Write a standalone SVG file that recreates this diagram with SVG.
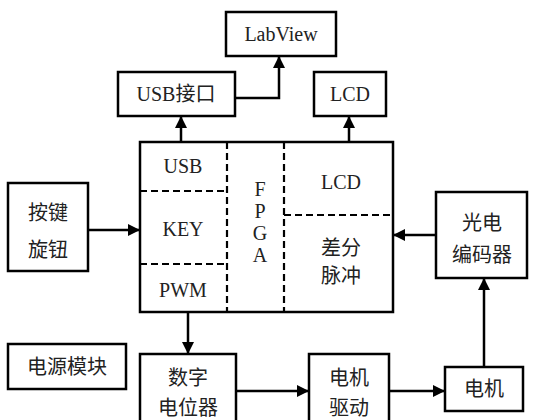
<svg xmlns="http://www.w3.org/2000/svg" width="533" height="420" viewBox="0 0 533 420">
<defs>
<marker id="ah" markerWidth="12" markerHeight="12" refX="11" refY="6" orient="auto" markerUnits="userSpaceOnUse"><path d="M0,0 L12,6 L0,12 Z" fill="#000"/></marker>
<style>
.box{fill:#fff;stroke:#000;stroke-width:2.5}
.dash{fill:none;stroke:#000;stroke-width:2.2;stroke-dasharray:7,4}
.ln{fill:none;stroke:#000;stroke-width:2.5}
text{fill:#222;text-anchor:middle;dominant-baseline:central;font-size:20px}
.t{font-family:"Liberation Serif","DejaVu Serif",serif}
.c{font-family:"Liberation Serif","Noto Sans CJK SC",serif}
</style>
</defs>
<rect width="533" height="420" fill="#fff"/>
<g id="connectors">
<path class="ln" d="M235,98 H279 V57" marker-end="url(#ah)"/>
<path class="ln" d="M181,142 V117" marker-end="url(#ah)"/>
<path class="ln" d="M349,142 V117" marker-end="url(#ah)"/>
<path class="ln" d="M88,230 H139" marker-end="url(#ah)"/>
<path class="ln" d="M436,235 H394" marker-end="url(#ah)"/>
<path class="ln" d="M188,312 V353" marker-end="url(#ah)"/>
<path class="ln" d="M236,391 H308" marker-end="url(#ah)"/>
<path class="ln" d="M389,391 H444" marker-end="url(#ah)"/>
<path class="ln" d="M484,367 V279" marker-end="url(#ah)"/>
</g>
<g id="labview"><rect class="box" x="226" y="12" width="110" height="44"/><text class="t" x="281" y="34">LabView</text></g>
<g id="usbif"><rect class="box" x="118" y="72" width="117" height="44"/><text class="c" x="176" y="94">USB接口</text></g>
<g id="lcd"><rect class="box" x="314" y="72" width="72" height="44"/><text class="t" x="350" y="94">LCD</text></g>
<g id="fpga">
<rect class="box" x="140" y="142" width="253" height="170"/>
<path class="dash" d="M227,142 V312 M284,142 V312 M140,191 H227 M140,264 H227 M284,215 H393"/>
<text class="t" x="183" y="166">USB</text>
<text class="t" x="183" y="229">KEY</text>
<text class="t" x="183" y="290">PWM</text>
<text class="t" x="260" y="189">F</text>
<text class="t" x="260" y="211">P</text>
<text class="t" x="260" y="233">G</text>
<text class="t" x="260" y="255">A</text>
<text class="t" x="341" y="182">LCD</text>
<text class="c" x="341" y="248">差分</text>
<text class="c" x="341" y="276">脉冲</text>
</g>
<g id="keys"><rect class="box" x="8" y="183" width="80" height="88"/><text class="c" x="48" y="213">按键</text><text class="c" x="48" y="250">旋钮</text></g>
<g id="encoder"><rect class="box" x="436" y="192" width="91" height="86"/><text class="c" x="482" y="223">光电</text><text class="c" x="482" y="255">编码器</text></g>
<g id="power"><rect class="box" x="8" y="344" width="118" height="45"/><text class="c" x="67" y="367">电源模块</text></g>
<g id="digipot"><rect class="box" x="140" y="354" width="96" height="70"/><text class="c" x="188" y="378">数字</text><text class="c" x="188" y="408">电位器</text></g>
<g id="driver"><rect class="box" x="309" y="354" width="80" height="70"/><text class="c" x="349" y="378">电机</text><text class="c" x="349" y="408">驱动</text></g>
<g id="motor"><rect class="box" x="445" y="367" width="78" height="44"/><text class="c" x="484" y="389">电机</text></g>
</svg>
